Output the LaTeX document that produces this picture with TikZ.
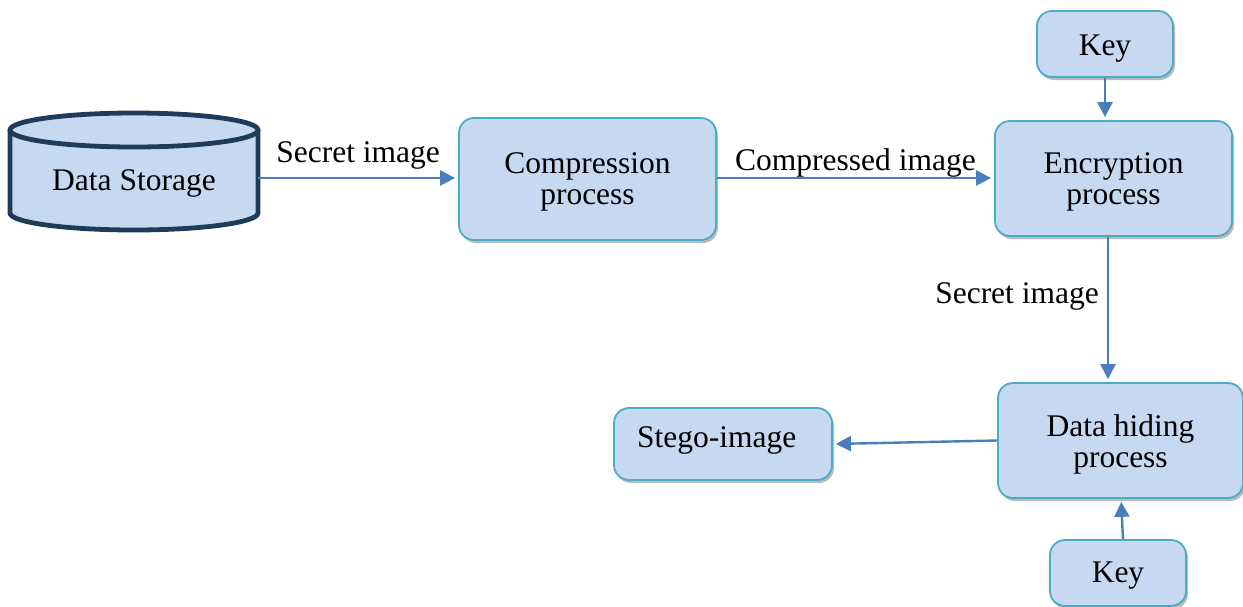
\documentclass[tikz,border=0pt]{standalone}
\usepackage{fontspec}
\setmainfont{Liberation Serif}
\usetikzlibrary{shadows,arrows.meta}
\definecolor{boxfill}{HTML}{C6D9F1}
\definecolor{boxline}{HTML}{4BACC6}
\definecolor{arrowc}{HTML}{4A7EBB}
\definecolor{cylline}{HTML}{1F3B5A}
\tikzset{
  procbox/.style={draw=boxline, line width=1.8pt, fill=boxfill, rounded corners=15pt,
    inner sep=0pt,
    drop shadow={shadow xshift=2pt, shadow yshift=-3pt, opacity=0.45, fill=black!60}},
  flow/.style={draw=arrowc, line width=2.4pt, -{Triangle[length=15pt,width=15pt]}, shorten >=3pt},
  lbl/.style={font=\fontsize{31.5}{31}\selectfont, inner sep=0pt, align=center}
}
\begin{document}
\begin{tikzpicture}[x=1pt,y=-1pt]
\useasboundingbox (0,0) rectangle (1243,606);
% cylinder
\draw[cylline, line width=4.8pt, fill=boxfill] (10,130) -- (10,213) arc[start angle=180, end angle=0, x radius=124, y radius=17] -- (258,130);
\draw[cylline, line width=4.8pt, fill=boxfill] (134,130) ellipse[x radius=124, y radius=17];
\node[lbl, minimum width=248pt, minimum height=60pt] (ds) at (134,183) {Data Storage};

\node[procbox, minimum width=257pt, minimum height=122pt] (comp) at (587.5,179) {};
\node[lbl] (compt) at (587.5,182) {Compression\\process};
\node[procbox, minimum width=237pt, minimum height=115pt] (enc) at (1113.5,178.5) {};
\node[lbl] (enct) at (1113.5,181.5) {Encryption\\process};
\node[procbox, minimum width=136pt, minimum height=66pt] (key1) at (1105,44) {};
\node[lbl] (key1t) at (1105,49) {Key};
\node[procbox, minimum width=245pt, minimum height=115pt] (hide) at (1120.5,440.5) {};
\node[lbl] (hidet) at (1120.5,444.5) {Data hiding\\process};
\node[procbox, minimum width=218pt, minimum height=72pt] (stego) at (723,444) {};
\node[lbl, anchor=west] (stegot) at (637,440) {Stego-image};
\node[procbox, minimum width=136pt, minimum height=66pt] (key2) at (1118,573) {};
\node[lbl] (key2t) at (1118,576) {Key};

\draw[flow] (ds.east |- 0,178) -- node[lbl, above=8pt] {Secret image} (comp.west |- 0,178);
\draw[flow] (comp.east |- 0,178) -- node[lbl, above=0pt] {Compressed image} (enc.west |- 0,178);
\draw[flow] (key1.south) -- (enc.north -| key1.south);
\draw[flow] (enc.south -| 1108,0) -- node[lbl, left=8pt, pos=0.41] {Secret image} (hide.north -| 1108,0);
\draw[flow] (hide.west) -- (stego.east);
\draw[flow] (key2.north -| 1123,0) -- (hide.south -| 1121,0);
\end{tikzpicture}
\end{document}
